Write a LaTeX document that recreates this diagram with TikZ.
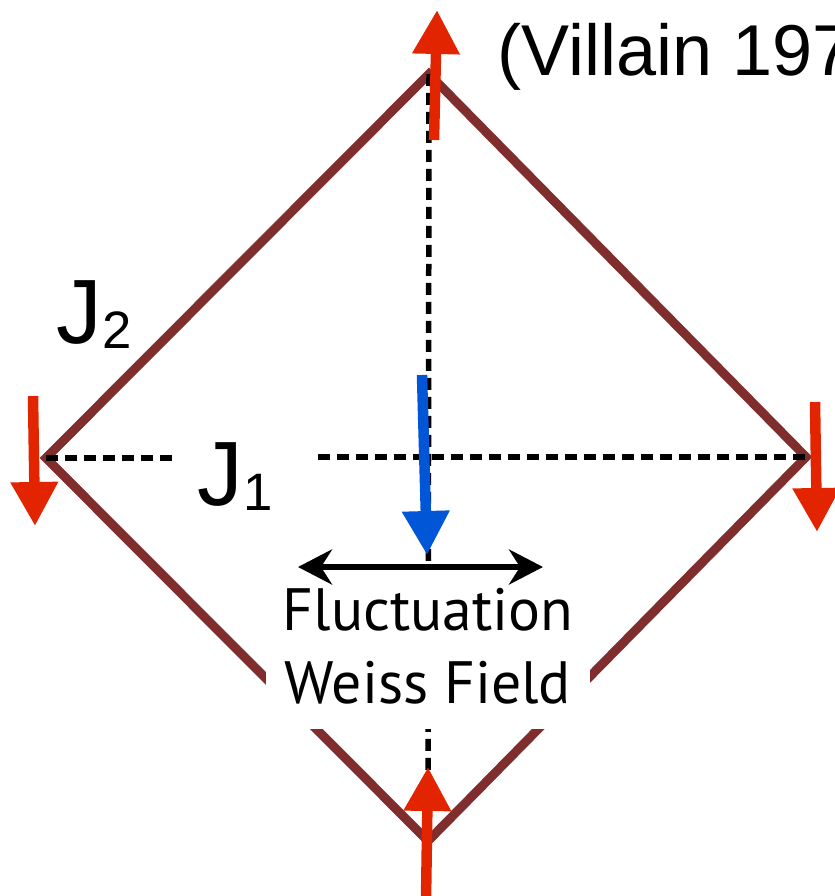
\documentclass[tikz,border=0pt]{standalone}
\usepackage{fontspec}
\setmainfont{Liberation Sans}
\newfontfamily\gillfont{PT Sans}
\usetikzlibrary{arrows.meta,positioning,calc}
\definecolor{bondred}{HTML}{802D2D}
\definecolor{spinred}{HTML}{E32400}
\definecolor{weissblue}{HTML}{0056D6}
\newcommand{\Jsub}[1]{J\raisebox{-3pt}{\fontsize{30}{31}\selectfont #1}}
\tikzset{
  bond/.style={line width=0.18cm, draw=bondred},
  spin/.style={line width=0.21cm, spinred, -{Triangle[width=0.9cm,length=0.88cm]}},
  weiss/.style={spin, weissblue},
  dotline/.style={line width=0.11cm, dash pattern=on 0.24cm off 0.14cm},
  fluct/.style={line width=0.11cm,
                {Stealth[length=0.68cm,width=0.7cm,inset=0.22cm]}-{Stealth[length=0.68cm,width=0.7cm,inset=0.22cm]}},
  coupling/.style={font=\fontsize{52}{62}\selectfont, inner sep=0pt, anchor=base west},
  labelbox/.style={fill=white, align=center, inner xsep=0.34cm, inner ysep=0.5cm,
                   font=\gillfont\fontsize{34}{41.4}\selectfont},
}
\begin{document}
\begin{tikzpicture}[x=0.02cm, y=-0.02cm]
    \useasboundingbox (0,0) rectangle (835,896);
    \clip (0,0) rectangle (835,896);
    % square plaquette
    \coordinate (T) at (429,74);
    \coordinate (R) at (806,457);
    \coordinate (B) at (428,841);
    \coordinate (L) at (46,458);
    \draw[bond] (T) -- (R) -- (B) -- (L) -- cycle;
    % couplings
    \node[coupling] (J1) at (197,505) {\Jsub{1}};
    \node[coupling] (J2) at (56,343) {\Jsub{2}};
    \draw[dotline] (L) -- ($(L -| J1.west)+(-24,0)$);
    \draw[dotline] ($(R -| J1.east)+(45,0)$) -- (R);
    \draw[dotline] (T) -- (B);
    \node[labelbox] (lbl) at (428,646) {Fluctuation\\Weiss Field};
    \node[font=\fontsize{41}{49}\selectfont, inner sep=0pt, anchor=base west] (ref) at (497,75) {(Villain 1977)};
    % spins
    \coordinate (s1a) at (434,140); \coordinate (s1b) at (437,10);
    \coordinate (s2a) at (33,396);  \coordinate (s2b) at (35,526);
    \coordinate (s3a) at (815,402); \coordinate (s3b) at (817,532);
    \coordinate (s4a) at (426,900); \coordinate (s4b) at (428,767);
    \draw[spin] (s1a) -- (s1b);
    \draw[spin] (s2a) -- (s2b);
    \draw[spin] (s3a) -- (s3b);
    \draw[spin] (s4a) -- (s4b);
    % Weiss field
    \coordinate (wa) at (422,375);
    \coordinate (wb) at (427,555);
    \draw[weiss] (wa) -- (wb);
    \coordinate (fa) at (298,567);
    \coordinate (fb) at (543,567);
    \draw[fluct] (fa) -- (fb);
\end{tikzpicture}
\end{document}
